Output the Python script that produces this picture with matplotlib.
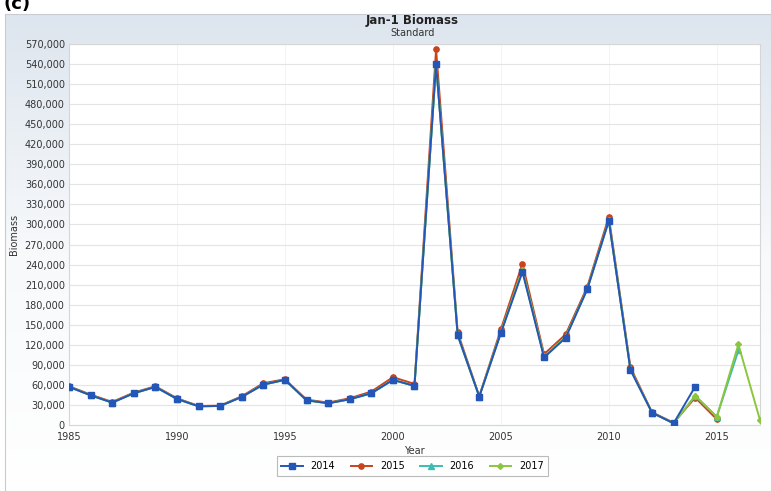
import numpy as np
import matplotlib
matplotlib.use('Agg')
import matplotlib.pyplot as plt
from matplotlib.ticker import FuncFormatter, MultipleLocator

# data
years = list(range(1985, 2018))

b2014 = [57000, 44500, 33500, 47500, 57000, 39000, 28000, 28500, 42000, 60500,
         67500, 37000, 32500, 38500, 47500, 67500, 58500, 540000, 134500, 42500,
         137500, 229000, 101000, 130500, 203000, 305500, 82500, 18500, 2500, 57500]
b2015 = [58000, 45500, 34500, 48500, 58000, 40000, 28500, 29000, 43000, 62500,
         68500, 38000, 33500, 40000, 50000, 71500, 61500, 562000, 138500, 43000,
         143000, 241500, 106000, 135500, 206500, 311500, 86500, 19000, 3500, 41000,
         8500]
b2016 = [57000, 44500, 33500, 47500, 57000, 39000, 28000, 28500, 42000, 60500,
         67500, 37000, 32500, 38500, 47500, 67500, 58500, 540000, 134500, 42500,
         138500, 232000, 102500, 131500, 203500, 306000, 83500, 18500, 2500, 43500,
         12500, 111500]
b2017 = [57000, 44500, 33500, 47500, 57000, 39000, 28000, 28500, 42000, 60500,
         67500, 37000, 32500, 38500, 47500, 67500, 58500, 540000, 134500, 42500,
         138500, 232000, 102500, 131500, 203500, 306000, 83500, 18500, 2500, 44000,
         12000, 120500, 7500]

series = [
    ('2014', b2014, '#2456b8', 's', 3.8),
    ('2015', b2015, '#c9431c', 'o', 3.8),
    ('2016', b2016, '#3bbcb4', '^', 3.8),
    ('2017', b2017, '#8cc63e', 'D', 3.0),
]

fig = plt.figure(figsize=(7.71, 4.91), dpi=100)
fig.patch.set_facecolor('white')

# light gradient frame behind the chart
bg = fig.add_axes([0.007, 0.0, 0.993, 0.971], zorder=-5)
grad = np.linspace(0, 1, 256).reshape(-1, 1)
cmap = matplotlib.colors.LinearSegmentedColormap.from_list('bg', ['#dde5ee', '#f7f9fb', '#ffffff'])
bg.imshow(grad, aspect='auto', cmap=cmap, extent=[0, 1, 0, 1])
bg.set_xticks([])
bg.set_yticks([])
for s in bg.spines.values():
    s.set_color('#c8ccd2')

fig.text(0.005, 0.992, '(c)', fontsize=13, fontweight='bold', va='center', ha='left')

ax = fig.add_axes([0.0895, 0.1344, 0.8962, 0.776])
ax.set_facecolor('white')

# 2014 on top, then 2017, 2016, 2015 underneath
zord = {'2014': 10, '2015': 7, '2016': 8, '2017': 9}
for name, vals, col, mk, ms in series:
    ax.plot(years[:len(vals)], vals, color=col, marker=mk, markersize=ms,
            linewidth=1.4, label=name, zorder=zord[name])

ax.set_xlim(1985, 2017)
ax.set_ylim(0, 570000)
ax.yaxis.set_major_locator(MultipleLocator(30000))
ax.xaxis.set_major_locator(MultipleLocator(5))
ax.yaxis.set_major_formatter(FuncFormatter(lambda v, p: f'{int(v):,}'))
ax.tick_params(axis='y', length=0, labelsize=7, colors='#333333', pad=3)
ax.tick_params(axis='x', length=0, labelsize=7, colors='#333333', pad=5)
ax.grid(axis='y', color='#e4e4e4', linewidth=0.8)
ax.grid(axis='x', color='#f2f2f2', linewidth=0.6)
ax.set_axisbelow(True)
for s in ax.spines.values():
    s.set_color('#d6d6d6')

ax.set_xlabel('Year', fontsize=7, color='#333333', labelpad=3)
ax.set_ylabel('Biomass', fontsize=7, color='#333333', labelpad=4)

fig.text(0.535, 0.958, 'Jan-1 Biomass', fontsize=8.5, fontweight='bold', ha='center', va='center', color='#222222')
fig.text(0.535, 0.932, 'Standard', fontsize=7, ha='center', va='center', color='#333333')

leg = fig.legend(loc='center', bbox_to_anchor=(0.535, 0.051), ncol=4, fontsize=7,
                 frameon=True, fancybox=False, handlelength=2.2, columnspacing=1.6,
                 borderpad=0.5)
leg.get_frame().set_edgecolor('#aaaaaa')
leg.get_frame().set_linewidth(0.8)

plt.savefig('out.png', dpi=100)
